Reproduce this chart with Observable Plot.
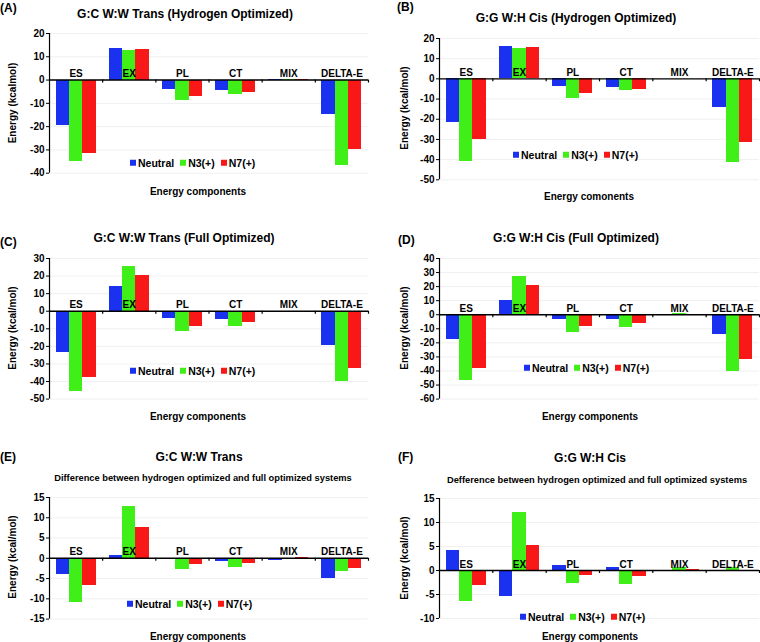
<!DOCTYPE html>
<html><head><meta charset="utf-8">
<script src="https://cdn.jsdelivr.net/npm/d3@7"></script>
<script src="https://cdn.jsdelivr.net/npm/@observablehq/plot@0.6"></script>
<style>
body{margin:0;background:#fff;}
#root{position:relative;width:760px;height:642px;overflow:hidden;font-family:"Liberation Sans",Arial,sans-serif;font-weight:bold;color:#000;}
.t{position:absolute;white-space:nowrap;font-weight:bold;line-height:1;}
.panel{position:absolute;}
.lg{position:absolute;white-space:nowrap;font-size:10.5px;font-weight:bold;line-height:1;transform:translate(0,-50%);}
.lg span.sw{display:inline-block;width:6px;height:6px;margin-right:2px;vertical-align:1px;}
.lg span.lb{margin-right:6px;}
</style></head><body><div id="root"></div><script>
const categories = ["ES","EX","PL","CT","MIX","DELTA-E"];
const series = ["Neutral","N3(+)","N7(+)"];
const colors = ["#1a32f0","#40ee18","#f81818"];

// (A) G:C W:W Trans (Hydrogen Optimized)
const A_Neutral = [-19.7, 13.6, -4.0, -4.3, 0.1, -14.6];
const A_N3      = [-35.0, 12.9, -8.9, -6.3, 0.2, -36.9];
const A_N7      = [-31.4, 13.1, -6.9, -5.4, 0.1, -30.0];
const A_ticks   = [-40, -30, -20, -10, 0, 10, 20];
// (B) G:G W:H Cis (Hydrogen Optimized)
const B_Neutral = [-21.6, 15.9, -3.9, -4.1, 0.0, -14.3];
const B_N3      = [-40.8, 15.1, -9.5, -5.7, 0.1, -41.5];
const B_N7      = [-30.2, 15.6, -7.4, -5.1, 0.0, -31.6];
const B_ticks   = [-50, -40, -30, -20, -10, 0, 10, 20];
// (C) G:C W:W Trans (Full Optimized)
const C_Neutral = [-23.5, 14.0, -4.2, -4.9, -0.8, -19.5];
const C_N3      = [-45.7, 25.6, -11.6, -8.7, 0.1, -39.8];
const C_N7      = [-37.8, 20.5, -8.5, -6.6, 0.1, -32.4];
const C_ticks   = [-50, -40, -30, -20, -10, 0, 10, 20, 30];
// (D) G:G W:H Cis (Full Optimized)
const D_Neutral = [-17.8, 10.2, -3.1, -3.6, 0.1, -14.4];
const D_N3      = [-47.1, 27.2, -12.5, -9.0, 0.9, -40.7];
const D_N7      = [-37.9, 20.6, -8.5, -6.4, 0.2, -31.7];
const D_ticks   = [-60, -50, -40, -30, -20, -10, 0, 10, 20, 30, 40];
// (E) G:C W:W Trans difference
const E_Neutral = [-4.0, 0.75, -0.4, -0.75, -0.65, -5.1];
const E_N3      = [-10.9, 12.8, -2.65, -2.3, 0.05, -3.15];
const E_N7      = [-6.7, 7.5, -1.65, -1.3, 0.15, -2.4];
const E_ticks   = [-15, -10, -5, 0, 5, 10, 15];
// (F) G:G W:H Cis difference
const F_Neutral = [4.1, -5.5, 1.0, 0.65, 0.1, 0.1];
const F_N3      = [-6.4, 12.1, -2.8, -2.9, 0.7, 0.7];
const F_N7      = [-3.1, 5.2, -1.05, -1.2, 0.3, 0.05];
const F_ticks   = [-10, -5, 0, 5, 10, 15];

const panels = [
  {left:0, fr:[49,368,33.3,173], ticks:A_ticks, values:[A_Neutral,A_N3,A_N7],
   tag:"(A)", tagPos:[0,8], title:"G:C W:W Trans (Hydrogen Optimized)", titlePos:[185,14],
   ylabel:"Energy (kcalmol)", ylabelPos:[13,103], legendPos:[130,163], xtitle:"Energy components", xtitlePos:[198,192]},
  {left:380, fr:[439,759,37.7,179], ticks:B_ticks, values:[B_Neutral,B_N3,B_N7],
   tag:"(B)", tagPos:[397,7], title:"G:G W:H Cis (Hydrogen Optimized)", titlePos:[576,18],
   ylabel:"Energy (kcal/mol)", ylabelPos:[405,108], legendPos:[513,155], xtitle:"Energy comonents", xtitlePos:[589,197]},
  {left:0, fr:[49,368,257.7,398.3], ticks:C_ticks, values:[C_Neutral,C_N3,C_N7],
   tag:"(C)", tagPos:[0,242], title:"G:C W:W Trans (Full Optimized)", titlePos:[184,238],
   ylabel:"Energy (kcal/mol)", ylabelPos:[13,328], legendPos:[130,371], xtitle:"Energy components", xtitlePos:[198,417]},
  {left:380, fr:[439,759,257.7,398.3], ticks:D_ticks, values:[D_Neutral,D_N3,D_N7],
   tag:"(D)", tagPos:[398,240], title:"G:G W:H Cis (Full Optimized)", titlePos:[576,238],
   ylabel:"Energy (kcal/mol)", ylabelPos:[405,328], legendPos:[524,368], xtitle:"Energy components", xtitlePos:[590,417]},
  {left:0, fr:[49,368,496.7,618.3], ticks:E_ticks, values:[E_Neutral,E_N3,E_N7],
   tag:"(E)", tagPos:[0,457], title:"G:C W:W Trans", titlePos:[199,457],
   subtitle:"Difference between hydrogen optimized and full optimized systems", subPos:[203,479],
   ylabel:"Energy (kcal/mol)", ylabelPos:[13,557], legendPos:[127,604], xtitle:"Energy components", xtitlePos:[198,637]},
  {left:380, fr:[439,759,498.3,618.3], ticks:F_ticks, values:[F_Neutral,F_N3,F_N7],
   tag:"(F)", tagPos:[398,457], title:"G:G W:H Cis", titlePos:[590,458],
   subtitle:"Defference between hydrogen optimized and full optimized systems", subPos:[597,481],
   ylabel:"Energy (kcal/mol)", ylabelPos:[405,558], legendPos:[520,617], xtitle:"Energy components", xtitlePos:[590,637]}
];

const root = document.getElementById("root");
function addText(txt, pos, size, mode) {
  const d = document.createElement("div");
  d.className = "t";
  d.textContent = txt;
  d.style.left = pos[0] + "px";
  d.style.top = pos[1] + "px";
  d.style.fontSize = size + "px";
  if (mode === "left") d.style.transform = "translate(0,-50%)";
  else if (mode === "rot") d.style.transform = "translate(-50%,-50%) rotate(-90deg)";
  else d.style.transform = "translate(-50%,-50%)";
  d.style.zIndex = 5;
  root.appendChild(d);
}

for (const p of panels) {
  const data = [];
  p.values.forEach((arr, s) => arr.forEach((v, c) => data.push({category: categories[c], series: series[s], value: v, ci: c, si: s})));
  const pad = 7;
  const [x0, x1, y0, y1] = p.fr;
  const svg = Plot.plot({
    width: 380,
    height: (y1 - y0) + 2 * pad,
    marginLeft: x0 - p.left,
    marginRight: 380 - (x1 - p.left),
    marginTop: pad,
    marginBottom: pad,
    style: {fontFamily: '"Liberation Sans", Arial, sans-serif', fontWeight: "bold", fontSize: "10px", color: "#000", background: "transparent", overflow: "visible"},
    x: {type: "linear", domain: [0, categories.length], axis: null},
    y: {domain: [p.ticks[0], p.ticks[p.ticks.length - 1]], ticks: p.ticks, tickSize: 3, tickPadding: 2, label: null, tickFormat: d => String(d)},
    color: {domain: series, range: colors},
    marks: [
      Plot.ruleY(p.ticks, {stroke: "#f0f0f0"}),
      Plot.rectY(data, {
        x1: d => d.ci + 0.125 + d.si * 0.25,
        x2: d => d.ci + 0.375 + d.si * 0.25,
        y: "value", fill: "series", shapeRendering: "crispEdges"
      }),
      Plot.ruleY([0], {stroke: "#000", strokeWidth: 1.4}),
      Plot.ruleX(d3.range(1, categories.length + 1), {x: d => d, y1: 0, y2: 0, insetTop: 0, insetBottom: -3, stroke: "#000", strokeWidth: 1.2}),
      Plot.ruleX([0], {stroke: "#000", strokeWidth: 1.2}),
      Plot.text(categories, {x: (d, i) => i + 0.5, y: 0, text: d => d, lineAnchor: "bottom", dy: -3, fontWeight: "bold", fontSize: 10, fill: "#000"})
    ]
  });
  const wrap = document.createElement("div");
  wrap.className = "panel";
  wrap.style.left = p.left + "px";
  wrap.style.top = (y0 - pad) + "px";
  wrap.appendChild(svg);
  root.appendChild(wrap);

  addText(p.tag, p.tagPos, 12, "left");
  addText(p.title, p.titlePos, 12);
  if (p.subtitle) addText(p.subtitle, p.subPos, 9.3);
  addText(p.ylabel, p.ylabelPos, 10, "rot");
  addText(p.xtitle, p.xtitlePos, 10);

  const lg = document.createElement("div");
  lg.className = "lg";
  lg.style.left = p.legendPos[0] + "px";
  lg.style.top = p.legendPos[1] + "px";
  lg.style.zIndex = 6;
  series.forEach((s, i) => {
    const sw = document.createElement("span");
    sw.className = "sw"; sw.style.background = colors[i];
    const lb = document.createElement("span");
    lb.className = "lb"; lb.textContent = s;
    lg.appendChild(sw); lg.appendChild(lb);
  });
  root.appendChild(lg);
}
</script></body></html>
